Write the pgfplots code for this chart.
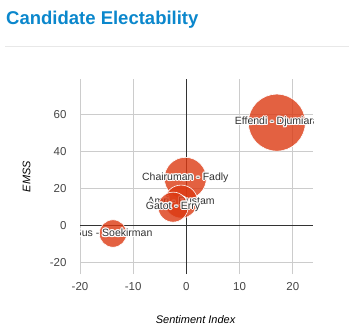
\documentclass[border=0pt]{standalone}
\usepackage{pgfplots}
\pgfplotsset{compat=1.18}
\usepackage{fontspec}
\setmainfont{Liberation Sans}
\usepackage{contour}
\contourlength{1.1pt}
\definecolor{titleblue}{RGB}{11,135,204}
\definecolor{bubble}{RGB}{220,57,18}
\definecolor{gridc}{RGB}{204,204,204}
\definecolor{sepc}{RGB}{232,232,232}
\definecolor{ticktext}{RGB}{68,68,68}
\definecolor{zeroc}{RGB}{51,51,51}
\pgfplotsset{
  bubble/.style={only marks, mark=*, mark size=#1,
    mark options={fill=bubble, fill opacity=0.8, draw=white, line width=0.6bp},
    nodes near coords={\contour{white}{\pgfplotspointmeta}},
    point meta=explicit symbolic,
    every node near coord/.append style={anchor=center, inner sep=0pt, text=black,
      font=\fontsize{10.5bp}{12bp}\selectfont}}
}
\begin{document}
\begin{tikzpicture}
\path[use as bounding box] (0,0) rectangle (349bp,336bp);
\node[anchor=base west, inner sep=0, text=titleblue, font=\fontsize{18.5bp}{22bp}\selectfont\bfseries] at (6bp,311.7bp) {Candidate Electability};
\draw[sepc, line width=1bp] (5bp,289bp) -- (349bp,289bp);
\begin{axis}[
  at={(80bp,62bp)}, anchor=south west, scale only axis,
  width=233bp, height=195bp,
  xmin=-20, xmax=23.8, ymin=-26, ymax=79,
  clip mode=individual, clip marker paths=true,
  xtick={-20,-10,10,20}, extra x ticks={0},
  ytick={-20,20,40,60}, extra y ticks={0},
  grid=major, major grid style={gridc, line width=0.8bp},
  extra x tick style={grid=major, major grid style={zeroc, line width=0.9bp}},
  extra y tick style={grid=major, major grid style={zeroc, line width=0.9bp}},
  axis line style={draw=none}, major tick length=0pt,
  /pgf/number format/assume math mode=true,
  tick label style={font=\fontsize{11.5bp}{13bp}\selectfont, text=ticktext},
  xticklabel style={yshift=-5bp},
  yticklabel style={xshift=-10bp},
  xlabel={Sentiment Index}, ylabel={EMSS},
  every axis x label/.style={at={(axis description cs:0.496,-0.256)}, anchor=base,
    font=\fontsize{11bp}{13bp}\selectfont\itshape, text=black},
  every axis y label/.style={at={(axis description cs:-0.229,0.5)}, rotate=90, anchor=center,
    font=\fontsize{11bp}{13bp}\selectfont\itshape, text=black},
]
\addplot[bubble=28.5bp] coordinates {(17,55.5) [Effendi - Djumiara]};
\addplot[bubble=21bp] coordinates {(-0.2,25.5) [Chairuman - Fadly]};
\addplot[bubble=16.5bp] coordinates {(-1,13) [Amri - Rustam]};
\addplot[bubble=15bp] coordinates {(-2.5,10) [Gatot - Erry]};
\addplot[bubble=13.7bp] coordinates {(-13.8,-4.2) [Gus - Soekirman]};
\end{axis}
\end{tikzpicture}
\end{document}
